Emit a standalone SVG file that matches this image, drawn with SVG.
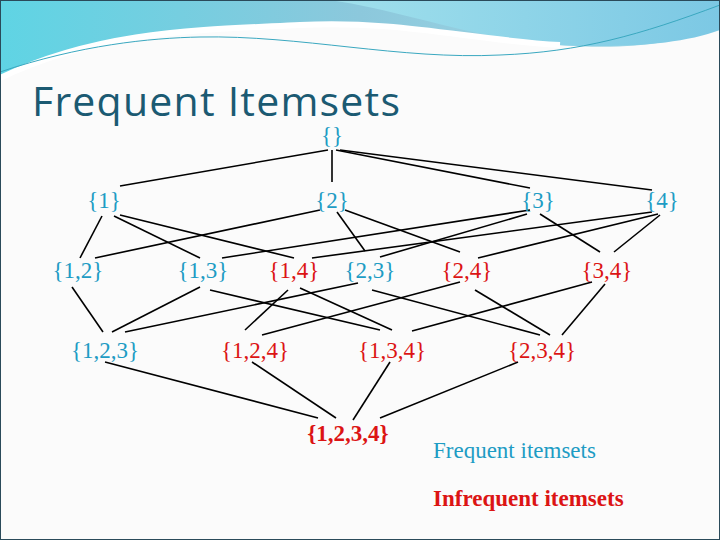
<svg xmlns="http://www.w3.org/2000/svg" width="720" height="540" viewBox="0 0 720 540">
<defs>
<linearGradient id="g1" x1="0" y1="0" x2="1" y2="0"><stop offset="0" stop-color="#5fd4e4"/><stop offset="0.5" stop-color="#8cc8dc"/><stop offset="1" stop-color="#a8dce8"/></linearGradient>
<linearGradient id="g2" x1="0" y1="0" x2="1" y2="0"><stop offset="0" stop-color="#a0e0ec"/><stop offset="1" stop-color="#7cc8e4"/></linearGradient>
</defs>
<style>
.n{font-family:"Liberation Serif",serif;font-size:23px;text-anchor:middle}
.f{fill:#1e9cc4}.i{fill:#dc1414}
#edges line{stroke:#000;stroke-width:1.6}
</style>
<rect width="720" height="540" fill="#fbfbfb"/>
<path d="M0,0 H720 V25 C680,45 620,50 560,45 C470,40 400,20 300,25 C200,30 100,30 0,78 Z" fill="url(#g1)"/>
<path d="M330,0 H720 V30 C680,45 620,48 555,45 C480,40 400,10 330,0 Z" fill="url(#g2)"/>
<path d="M0,78 C100,30 200,30 300,25 C400,20 470,40 560,45" fill="none" stroke="#fff" stroke-width="6"/>
<path d="M0,72 C80,45 150,38 200,37 C300,35 400,60 500,55 C580,52 640,35 720,5" fill="none" stroke="#3aa8c0" stroke-width="1"/>
<rect x="0.5" y="0.5" width="719" height="539" fill="none" stroke="#2a4a5a" stroke-width="1"/>
<text x="32" y="116" font-family="'Open Sans','Liberation Sans',sans-serif" font-size="41" fill="#1b5a72" textLength="368">Frequent Itemsets</text>
<g id="edges">
<line x1="328" y1="150" x2="120" y2="186"/><line x1="332" y1="150" x2="332" y2="182"/><line x1="336" y1="150" x2="530" y2="188"/><line x1="340" y1="150" x2="652" y2="190"/>
<line x1="102" y1="216" x2="80" y2="258"/><line x1="114" y1="216" x2="200" y2="258"/><line x1="120" y1="215" x2="294" y2="258"/>
<line x1="320" y1="210" x2="95" y2="258"/><line x1="337" y1="212" x2="365" y2="251"/><line x1="345" y1="210" x2="460" y2="252"/>
<line x1="530" y1="210" x2="222" y2="258"/><line x1="527" y1="214" x2="380" y2="257"/><line x1="540" y1="214" x2="600" y2="252"/>
<line x1="652" y1="212" x2="312" y2="258"/><line x1="658" y1="214" x2="478" y2="258"/><line x1="660" y1="215" x2="614" y2="252"/>
<line x1="72" y1="287" x2="103" y2="332"/><line x1="200" y1="287" x2="112" y2="332"/><line x1="210" y1="290" x2="380" y2="330"/>
<line x1="288" y1="290" x2="245" y2="330"/><line x1="300" y1="288" x2="392" y2="330"/><line x1="358" y1="283" x2="125" y2="332"/>
<line x1="372" y1="290" x2="540" y2="335"/><line x1="460" y1="282" x2="262" y2="335"/><line x1="475" y1="290" x2="550" y2="335"/>
<line x1="592" y1="282" x2="412" y2="331"/><line x1="605" y1="284" x2="562" y2="335"/>
<line x1="105" y1="362" x2="318" y2="418"/><line x1="252" y1="362" x2="336" y2="418"/><line x1="390" y1="362" x2="353" y2="420"/><line x1="518" y1="362" x2="380" y2="418"/>
</g>
<g id="n0"><text class="n f" x="332" y="143" font-size="17">{}</text></g>
<g id="n1"><text class="n f" x="104" y="208">{1}</text></g>
<g id="n2"><text class="n f" x="332" y="208">{2}</text></g>
<g id="n3"><text class="n f" x="538" y="208">{3}</text></g>
<g id="n4"><text class="n f" x="662" y="208">{4}</text></g>
<g id="n12"><text class="n f" x="78" y="278">{1,2}</text></g>
<g id="n13"><text class="n f" x="203" y="278">{1,3}</text></g>
<g id="n14"><text class="n i" x="294" y="278">{1,4}</text></g>
<g id="n23"><text class="n f" x="370" y="278">{2,3}</text></g>
<g id="n24"><text class="n i" x="467" y="278">{2,4}</text></g>
<g id="n34"><text class="n i" x="607" y="278">{3,4}</text></g>
<g id="n123"><text class="n f" x="105" y="358">{1,2,3}</text></g>
<g id="n124"><text class="n i" x="255" y="358">{1,2,4}</text></g>
<g id="n134"><text class="n i" x="392" y="358">{1,3,4}</text></g>
<g id="n234"><text class="n i" x="542" y="358">{2,3,4}</text></g>
<g id="n1234"><text class="n i" x="348" y="441" font-weight="bold">{1,2,3,4}</text></g>
<g id="legend">
<text x="433" y="458" font-family="'Liberation Serif',serif" font-size="23" fill="#1e9cc4">Frequent itemsets</text>
<text x="433" y="506" font-family="'Liberation Serif',serif" font-size="23" font-weight="bold" fill="#dc1414">Infrequent itemsets</text>
</g>
</svg>
